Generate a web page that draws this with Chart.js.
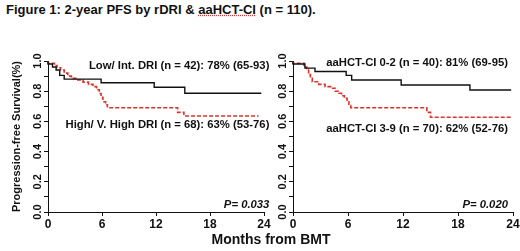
<!DOCTYPE html>
<html>
<head>
<meta charset="utf-8">
<script src="https://cdn.jsdelivr.net/npm/chart.js@4"></script>
<style>
  body { margin: 0; background: #fff; font-family: Arial, "Liberation Sans", sans-serif; }
  #page { position: relative; width: 520px; height: 251px; overflow: hidden; }
  #title { position: absolute; left: 6px; top: 2px; font-size: 13px; font-weight: bold; color: #111; white-space: nowrap; }
  #title span { text-decoration: underline dotted #d33; }
  #xtitle { position: absolute; left: 0; width: 542px; top: 231px; text-align: center; font-size: 14px; font-weight: bold; color: #111; }
  .box { position: absolute; top: 0; height: 251px; }
</style>
</head>
<body>
<div id="page">
  <div id="title">Figure 1: 2-year PFS by rDRI &amp; <span>aaHCT-CI</span> (n = 110).</div>
  <div class="box" style="left:0;width:272px"><canvas id="leftChart"></canvas></div>
  <div class="box" style="left:270px;width:250px"><canvas id="rightChart"></canvas></div>
  <div id="xtitle">Months from BMT</div>
</div>
<script>
// months from BMT / progression-free survival
const driLowMonths = [0, 0.5, 0.9, 1.3, 1.8, 5.9, 11.8, 15.2, 21.4, 23.7];
const driLowSurv   = [1, 0.98, 0.96, 0.94, 0.905, 0.88, 0.856, 0.826, 0.786, 0.786];
const driHighMonths = [0, 0.7, 1.0, 1.4, 1.8, 2.2, 2.6, 3.2, 3.9, 4.5, 5.0, 5.4, 5.7, 5.9, 6.1, 6.4, 6.6, 14.4, 15.1, 19.0, 23.4];
const driHighSurv   = [1, 0.985, 0.97, 0.955, 0.94, 0.92, 0.90, 0.885, 0.874, 0.86, 0.845, 0.83, 0.81, 0.785, 0.76, 0.73, 0.71, 0.69, 0.66, 0.636, 0.636];

const hctLowMonths = [0, 1.3, 2.4, 5.8, 6.4, 11.8, 19.3, 21.6, 23.8];
const hctLowSurv   = [1, 0.98, 0.953, 0.93, 0.905, 0.874, 0.841, 0.808, 0.808];
const hctHighMonths = [0, 1.2, 1.5, 1.7, 1.9, 2.1, 2.8, 3.5, 4.1, 4.6, 5.0, 5.3, 5.6, 5.9, 6.1, 6.3, 14.6, 15.0, 15.5, 23.8];
const hctHighSurv   = [1, 0.985, 0.96, 0.94, 0.91, 0.885, 0.863, 0.845, 0.83, 0.82, 0.80, 0.786, 0.77, 0.753, 0.73, 0.705, 0.69, 0.66, 0.627, 0.627];

const monthTicks = [0, 6, 12, 18, 24];

const leftLabels = [
  { text: 'Low/ Int. DRI (n = 42): 78% (65-93)', x: 24.6, y: 0.97 },
  { text: 'High/ V. High DRI (n = 68): 63% (53-76)', x: 24.6, y: 0.58 }
];
const rightLabels = [
  { text: 'aaHCT-CI 0-2 (n = 40): 81% (69-95)', x: 23.45, y: 0.985 },
  { text: 'aaHCT-CI 3-9 (n = 70): 62% (52-76)', x: 23.45, y: 0.55 }
];
const leftP = 'P= 0.033';
const rightP = 'P= 0.020';

const FONT = 'Arial, "Liberation Sans", sans-serif';
const INK = '#111';
const RED = '#e0302c';

function points(xs, ys) {
  return xs.map((x, i) => ({ x: x, y: ys[i] }));
}

const textPlugin = {
  id: 'textPlugin',
  afterDatasetsDraw(chart, args, opts) {
    const ctx = chart.ctx;
    const xs = chart.scales.x, ys = chart.scales.y;
    ctx.save();
    ctx.fillStyle = INK;
    ctx.textAlign = 'right';
    ctx.textBaseline = 'middle';
    ctx.font = 'bold 11.3px ' + FONT;
    opts.labels.forEach(l => {
      ctx.fillText(l.text, xs.getPixelForValue(l.x), ys.getPixelForValue(l.y));
    });
    ctx.font = 'italic bold 11.3px ' + FONT;
    ctx.fillText(opts.p, xs.getPixelForValue(opts.px), ys.getPixelForValue(0.05));
    ctx.restore();
  }
};

function makeChart(el, blackPts, redPts, labels, p, px, leftWidth, rightPad, showTitle) {
  return new Chart(document.getElementById(el), {
    type: 'line',
    data: {
      datasets: [{
        data: blackPts,
        borderColor: INK,
        borderWidth: 1.4,
        stepped: 'after',
        pointRadius: 0,
        clip: false
      }, {
        data: redPts,
        borderColor: RED,
        borderWidth: 1.6,
        borderDash: [4, 2],
        stepped: 'after',
        pointRadius: 0,
        clip: false
      }]
    },
    options: {
      responsive: true,
      maintainAspectRatio: false,
      animation: false,
      layout: { padding: { left: 0, top: 61, right: rightPad, bottom: 0 } },
      plugins: {
        legend: false,
        tooltip: { enabled: false },
        textPlugin: { labels: labels, p: p, px: px }
      },
      scales: {
        x: {
          type: 'linear',
          min: 0,
          max: 24,
          afterBuildTicks(scale) {
            scale.ticks = monthTicks.map(v => ({ value: v }));
          },
          afterFit(scale) {
            scale.height = 39;
            scale.paddingLeft = 0;
            scale.paddingRight = 0;
          },
          border: { display: true, color: INK, width: 1 },
          grid: { drawOnChartArea: false, drawTicks: true, tickLength: 4, color: INK },
          ticks: {
            color: INK,
            padding: 1,
            maxRotation: 0,
            autoSkip: false,
            font: { family: FONT, size: 12, weight: 'bold' }
          }
        },
        y: {
          min: 0,
          max: 1,
          afterFit(scale) {
            scale.width = leftWidth;
            scale.paddingTop = 0;
            scale.paddingBottom = 0;
          },
          border: { display: true, color: INK, width: 1 },
          grid: { drawOnChartArea: false, drawTicks: true, tickLength: 4, color: INK },
          title: {
            display: showTitle,
            text: 'Progression-free Survival(%)',
            color: INK,
            padding: { top: 10, bottom: 0 },
            font: { family: FONT, size: 11, weight: 'bold' }
          },
          ticks: {
            stepSize: 0.1,
            color: INK,
            padding: -2,
            minRotation: 90,
            maxRotation: 90,
            crossAlign: 'center',
            autoSkip: false,
            font: { family: FONT, size: 11, weight: 'bold' },
            callback(v) {
              const k = Math.round(v * 10);
              return k % 2 === 0 ? (k / 10).toFixed(1) : '';
            }
          }
        }
      }
    },
    plugins: [textPlugin]
  });
}

makeChart('leftChart', points(driLowMonths, driLowSurv), points(driHighMonths, driHighSurv),
  leftLabels, leftP, 24.6, 48, 8, true);
makeChart('rightChart', points(hctLowMonths, hctLowSurv), points(hctHighMonths, hctHighSurv),
  rightLabels, rightP, 23.45, 23, 7, false);
</script>
</body>
</html>
